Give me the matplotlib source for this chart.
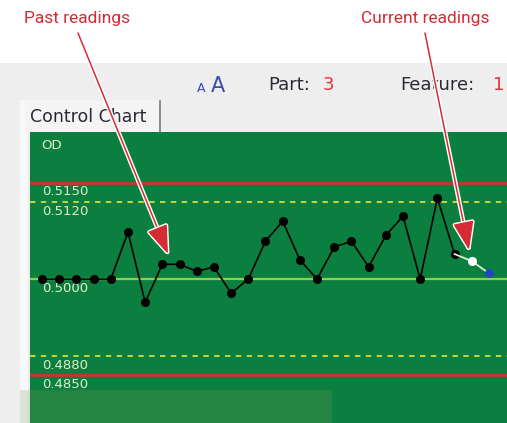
import matplotlib.pyplot as plt
import matplotlib.patheffects as pe
from matplotlib.patches import Rectangle
import numpy as np

# past readings (black) and the current readings (white / blue)
past = [0.5000, 0.5000, 0.5000, 0.5000, 0.5000, 0.5073, 0.4964, 0.5023, 0.5023,
        0.5012, 0.5019, 0.4978, 0.5000, 0.5059, 0.5090, 0.5030, 0.5000, 0.5050,
        0.5059, 0.5019, 0.5068, 0.5098, 0.5000, 0.5126, 0.5039]
current = [0.5028, 0.5009]

# control / warning limits
limit_values = [0.5150, 0.5120, 0.5000, 0.4880, 0.4850]
limit_labels = ['0.5150', '0.5120', '0.5000', '0.4880', '0.4850']
limit_kinds = ['control', 'warning', 'center', 'warning', 'control']

W, H = 507, 423
fig = plt.figure(figsize=(W / 100, H / 100), dpi=100)
fig.patch.set_facecolor('white')

def px(x, y, w, h):
    # screen pixel box (top-left origin) -> figure fraction
    return [x / W, 1 - (y + h) / H, w / W, h / H]

# window background
fig.patches.append(Rectangle((0, 0), 1, (H - 63) / H, transform=fig.transFigure,
                             facecolor='#eeeeee', edgecolor='none', zorder=-2))
fig.patches.append(Rectangle((20 / W, 0), 8 / W, (H - 100) / H, transform=fig.transFigure,
                             facecolor='#f8f8f8', edgecolor='none', zorder=-1))
fig.patches.append(Rectangle((25 / W, (H - 132) / H), 135 / W, 32 / H, transform=fig.transFigure,
                             facecolor='#f4f4f4', edgecolor='none', zorder=-1))
fig.lines.append(plt.Line2D([160 / W, 160 / W], [(H - 132) / H, (H - 101) / H],
                            transform=fig.transFigure, color='#7a7a7a', lw=1.2))

# chart panel
ax = fig.add_axes(px(30, 132, 477, 291))
ax.set_facecolor('#0b7f3f')
for s in ax.spines.values():
    s.set_visible(False)
ax.set_xticks([])
ax.set_yticks([])

n_past = len(past)
x_past = np.arange(1, n_past + 1)
x_cur = np.arange(n_past + 1, n_past + len(current) + 1)

styles = {
    'control': dict(color='#c8372d', lw=2.0, ls='-'),
    'warning': dict(color='#d8dc3a', lw=1.3, ls=(0, (3, 3))),
    'center': dict(color='#8fd04a', lw=1.6, ls='-'),
}
for val, lab, kind in zip(limit_values, limit_labels, limit_kinds):
    ax.axhline(val, zorder=1, **styles[kind])
    ax.text(0.98, val - 0.0004, lab, color='#e6ecc8', fontsize=9.5,
            ha='left', va='top', zorder=2)

ax.text(0.98, 0.5208, 'OD', color='#e6ecc8', fontsize=9.5, ha='left', va='center')

ax.plot(x_past, past, color='black', lw=1.2, marker='o', ms=5.5, zorder=3)
ax.plot(np.r_[x_past[-1], x_cur], np.r_[past[-1], current], color='#d8f0d0',
        lw=1.3, zorder=3)
ax.plot(x_cur[0], current[0], 'o', color='white', ms=5.5, zorder=4)
ax.plot(x_cur[1], current[1], 'o', color='#2545c0', ms=5.5, zorder=4)

ax.set_xlim(0.30, 28.05)
ax.set_ylim(0.4776, 0.5229)

# faded block at the bottom of the screenshot
fig.patches.append(Rectangle((20 / W, 0), 312 / W, 33 / H, transform=fig.transFigure,
                             facecolor='#7a9a5a', alpha=0.22, edgecolor='none', zorder=5))

# toolbar texts
fig.text(197 / W, 1 - 88 / H, 'A', color='#3b4ba8', fontsize=9, va='center')
fig.text(211 / W, 1 - 86 / H, 'A', color='#3b4ba8', fontsize=15, va='center')
fig.text(268 / W, 1 - 85 / H, 'Part:', color='#2a2a35', fontsize=13, va='center')
fig.text(323 / W, 1 - 85 / H, '3', color='#e03535', fontsize=13, va='center')
fig.text(400 / W, 1 - 85 / H, 'Feature:', color='#2a2a35', fontsize=13, va='center')
fig.text(493 / W, 1 - 85 / H, '1', color='#e03535', fontsize=13, va='center')
fig.text(30 / W, 1 - 117 / H, 'Control Chart', color='#2a2a35', fontsize=12.5, va='center')

# callouts
red = '#d42b35'
callouts = [('Past readings', 77, (78, 33), (168, 254)),
            ('Current readings', 425, (425, 33), (469, 250))]
for label, cx, start, tip in callouts:
    fig.text(cx / W, 1 - 18 / H, label, color=red, fontsize=12.5,
             family='Roboto', ha='center', va='center')
    ann = fig.add_artist(plt.Annotation(
        '', xy=(tip[0], H - tip[1]), xycoords='figure pixels',
        xytext=(start[0], H - start[1]), textcoords='figure pixels',
        arrowprops=dict(arrowstyle='-|>,head_length=1.0,head_width=0.36',
                        color=red, lw=1.1, mutation_scale=18, shrinkA=0, shrinkB=0,
                        path_effects=[pe.withStroke(linewidth=3.2, foreground='white')])))
    ann.set_zorder(10)

fig.savefig('out.png', dpi=100)
